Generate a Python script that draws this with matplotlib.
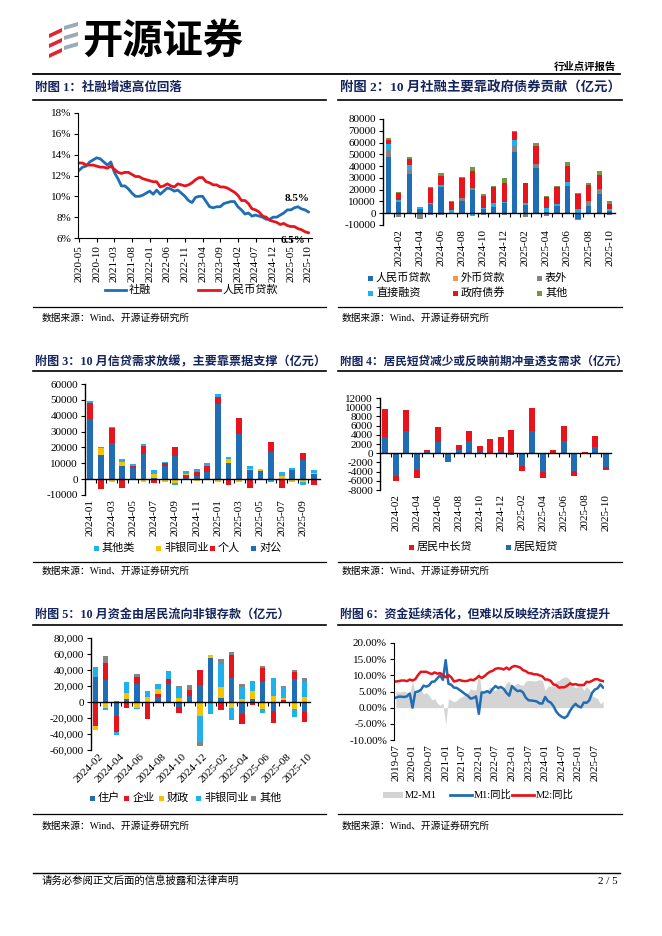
import matplotlib
matplotlib.use('Agg')
import matplotlib.pyplot as plt
from matplotlib.lines import Line2D
from matplotlib.patches import Rectangle, Polygon
from matplotlib.transforms import blended_transform_factory
import matplotlib.ticker as mticker
import numpy as np
import pandas as pd

plt.rcParams['font.family'] = ['Liberation Serif', 'Noto Sans CJK SC']
plt.rcParams['axes.unicode_minus'] = False

# ---------------- data ----------------
# Chart 1: 2020-05 .. 2025-10
c1_months = [p.strftime('%Y-%m') for p in pd.period_range('2020-05', '2025-10', freq='M')]
tsf_yoy = [12.5, 12.8, 12.9, 13.3, 13.5, 13.7, 13.6, 13.3,
           13.0, 13.3, 12.3, 11.7, 11.0, 11.0, 10.7, 10.3, 10.0, 10.0, 10.1, 10.3,
           10.5, 10.2, 10.6, 10.2, 10.5, 10.8, 10.7, 10.5, 10.6, 10.3, 10.0, 9.6,
           9.4, 9.9, 10.0, 10.0, 9.5, 9.0, 8.9, 9.0, 9.0, 9.3, 9.4, 9.5,
           9.5, 9.0, 8.7, 8.3, 8.4, 8.1, 8.2, 8.1, 8.0, 7.8, 7.8, 8.0,
           8.0, 8.2, 8.4, 8.7, 8.7, 8.9, 9.0, 8.8, 8.7, 8.5]
loan_yoy = [13.2, 13.2, 13.0, 13.0, 13.0, 12.9, 12.8, 12.8,
            12.7, 12.9, 12.6, 12.3, 12.2, 12.3, 12.3, 12.1, 11.9, 11.9, 11.7, 11.6,
            11.5, 11.4, 11.4, 10.9, 11.0, 11.2, 11.0, 10.9, 11.2, 11.1, 11.0, 11.1,
            11.3, 11.6, 11.8, 11.8, 11.4, 11.3, 11.1, 11.1, 10.9, 10.9, 10.8, 10.6,
            10.4, 10.1, 9.6, 9.6, 9.3, 8.8, 8.7, 8.5, 8.1, 8.0, 7.7, 7.6,
            7.5, 7.3, 7.4, 7.2, 7.1, 7.1, 6.9, 6.8, 6.6, 6.5]

# Chart 2: 2024-01 .. 2025-10
c2_months = [p.strftime('%Y-%m') for p in pd.period_range('2024-01', '2025-10', freq='M')]
tsf_rmb = [48000, 9500, 33000, 3500, 8000, 22000, 500, 10500, 19500, 3500, 5500, 8500,
           52000, 7000, 38000, 1000, 6000, 23000, -4500, 6000, 16000, 2000]
tsf_fx = [0, -300, 0, -500, -300, 0, -1000, 0, 0, -300, 0, 0,
          0, 0, 0, 0, 0, 0, 0, 0, 0, 0]
tsf_off = [6000, -3000, 3500, -4500, -1000, -1500, 0, 2500, 1500, -1000, -500, -1500,
           5000, -3000, 4000, -2500, -500, -1000, -1000, 4500, 4500, -1500]
tsf_direct = [5000, 2000, 4500, 1500, 1000, 2000, 2000, 0, -2000, 1000, 3500, 1000,
              5500, 1500, 0, 3500, 1500, 3500, 3500, 0, 0, 1500]
tsf_gov = [3000, 5500, 5000, 0, 12000, 8000, 7000, 16500, 15000, 10000, 13000, 16500,
           6500, 17000, 15000, 9500, 14500, 13500, 12500, 13500, 12000, 4500]
tsf_other = [2000, 1000, 1500, 0, 1000, 2000, 500, 1000, 3000, 1500, 1500, 4000,
             1000, 500, 3000, 500, 1500, 3500, 1500, 1500, 3000, 2000]

# Chart 3: 2024-01 .. 2025-10
ln_corp = [38000, 15000, 23000, 8500, 7000, 16000, 500, 8000, 14500, 500, 2000, 4500,
           47500, 10000, 28500, 5500, 4500, 17000, 0, 6000, 12000, 3000]
ln_indiv = [10000, -6000, 9500, -5500, 1000, 5000, -2500, 2000, 5500, 2000, 2500, 4000,
            4500, -4000, 10000, -5500, 500, 6500, -5500, 0, 4500, -4000]
ln_nonbank = [0, 4500, -2000, 2500, 500, -1500, 2500, -1500, -2500, 500, -1000, 0,
              -2000, 2500, -1500, 1000, 1500, -500, 2000, -1500, -2000, 1000]
ln_others = [1000, 1000, 500, 2000, 1000, 1000, 2500, 500, -1500, 2000, 2000, 1500,
             2000, 1500, -500, 1500, 0, -1000, 2500, 1000, -1500, 2000]

# Chart 4: 2024-01 .. 2025-10
hh_mid = [6100, -1100, 4600, -1800, 500, 3100, 100, 1200, 2300, 1000, 3000, 3000,
          5000, -1200, 5100, -1300, 700, 3300, -1200, 250, 2400, -700]
hh_short = [3600, -4900, 4800, -3600, 200, 2500, -2000, 600, 2600, 500, -200, 500,
            -300, -2700, 4800, -4000, 0, 2600, -3800, 50, 1400, -2900]

# Chart 5: 2024-02 .. 2025-10
c5_months = [p.strftime('%Y-%m') for p in pd.period_range('2024-02', '2025-10', freq='M')]
dep_hh = [31000, 28000, -18000, 4000, 22000, -2000, 6500, 22000, -6500, 7500, 21500,
          55500, 5500, 30500, -14500, 4000, 24500, -11500, -1000, 29000, -12000]
dep_corp = [-30000, 21000, -19000, -8000, 9500, -19500, 4000, 7000, -7000, 7500, 18500,
            -1500, -9500, 28500, -13500, -4000, 18000, -14500, 3000, 8500, -13000]
dep_fisc = [-5000, -8000, 0, 7000, -8000, 6000, 5500, -1500, 4500, 0, -17500,
            3500, 13000, -7500, 4000, 10000, -8500, 7000, 2000, -8500, 6500]
dep_nbank = [13000, -1500, -4000, 13500, -1000, 8000, 6500, 10000, 14000, 0, -32000,
             -14000, 28500, -15000, 14500, 12000, -5000, 23500, 14000, -10500, 18000]
dep_other = [0, 8000, 1000, 1000, 3000, 0, 0, 0, 1000, 6000, -5000,
             0, 6500, 4000, 3500, 0, 3000, 0, 1500, 3000, 5500]

# Chart 6: 2019-07 .. 2025-10
c6_months = [p.strftime('%Y-%m') for p in pd.period_range('2019-07', '2025-10', freq='M')]
m2_yoy = [8.1, 8.2, 8.4, 8.4, 8.2, 8.7,
          8.4, 8.8, 10.1, 11.1, 11.1, 11.1, 10.7, 10.4, 10.9, 10.5, 10.7, 10.1,
          9.4, 10.1, 9.4, 8.1, 8.3, 8.6, 8.3, 8.2, 8.3, 8.7, 8.5, 9.0,
          9.8, 9.2, 9.7, 10.5, 11.1, 11.4, 12.0, 12.2, 12.1, 11.8, 12.4, 11.8,
          12.6, 12.9, 12.7, 12.4, 11.6, 11.3, 10.7, 10.6, 10.3, 10.3, 10.0, 9.7,
          8.7, 8.7, 8.3, 7.2, 7.0, 6.2, 6.3, 6.3, 6.8, 7.5, 7.1, 7.3,
          7.0, 7.0, 7.0, 8.0, 7.9, 8.3, 8.8, 8.8, 8.4, 8.2]
m1_yoy = [3.1, 3.4, 3.4, 3.3, 3.5, 4.4,
          0.0, 4.8, 5.0, 5.5, 6.8, 6.5, 6.9, 8.0, 8.1, 9.1, 10.0, 8.6,
          14.7, 7.4, 7.1, 6.2, 6.1, 5.5, 4.9, 4.2, 3.7, 2.8, 3.0, 3.5,
          -1.9, 4.7, 4.7, 5.1, 4.6, 5.8, 6.7, 6.1, 6.4, 5.8, 4.6, 3.7,
          6.7, 5.8, 5.1, 5.3, 4.7, 3.1, 2.3, 2.2, 2.1, 1.9, 1.3, 1.3,
          3.3, 2.0, 1.6, 0.5, -1.2, -2.2, -2.8, -3.2, -2.6, -1.0, 0.3, 1.2,
          0.4, 0.1, 1.6, 1.5, 2.3, 4.6, 5.6, 6.0, 7.2, 6.2]

# ---------------- styles ----------------
BLUE = '#1f6db5'
RED = '#e8141b'
LBLUE = '#1eb1ec'
YELLOW = '#f7c200'
GRAY = '#848484'
ORANGE = '#f79646'
GREEN = '#6f9a40'
NAVY = '#14245c'
TICK_FS = 8
LEG_FS = 8

W, H = 662, 936
fig = plt.figure(figsize=(W / 100, H / 100), dpi=100)


def rect(x0, y0, x1, y1):
    return [x0 / W, 1 - y1 / H, (x1 - x0) / W, (y1 - y0) / H]


def ftext(x, y, s, **kw):
    fig.text(x / W, 1 - y / H, s, **kw)


def hline(x0, x1, y, lw=1.0, color='black'):
    fig.add_artist(Line2D([x0 / W, x1 / W], [1 - y / H, 1 - y / H], color=color, lw=lw))


def leg_patch(x, y, color, text, size=5, fs=LEG_FS):
    fig.add_artist(Rectangle(((x - size / 2) / W, 1 - (y + size / 2) / H), size / W, size / H,
                             color=color, lw=0))
    ftext(x + 6, y, text, va='center', ha='left', fontsize=fs)


def leg_line(x0, x1, y, color, text, tx, fs=LEG_FS):
    fig.add_artist(Line2D([x0 / W, x1 / W], [1 - y / H, 1 - y / H], color=color, lw=2))
    ftext(tx, y, text, va='center', ha='left', fontsize=fs)


def stacked(ax, series, colors, width):
    n = len(series[0])
    x = np.arange(n)
    pos = np.zeros(n)
    neg = np.zeros(n)
    for vals, c in zip(series, colors):
        v = np.array(vals, float)
        bottom = np.where(v >= 0, pos, neg)
        ax.bar(x, v, width, bottom=bottom, color=c, linewidth=0)
        pos = pos + np.where(v > 0, v, 0)
        neg = neg + np.where(v < 0, v, 0)


def style_bar(ax, ylim, ystep, fmt, n, xlim):
    ax.set_xlim(*xlim)
    ax.set_ylim(*ylim)
    ax.set_yticks(np.arange(ylim[0], ylim[1] + 1, ystep))
    ax.yaxis.set_major_formatter(fmt)
    for s in ['top', 'right']:
        ax.spines[s].set_visible(False)
    ax.spines['bottom'].set_position(('data', 0))
    ax.spines['left'].set_linewidth(1.0)
    ax.spines['bottom'].set_linewidth(1.0)
    ax.set_xticks(np.arange(n - 1) + 0.5)
    ax.set_xticklabels([])
    ax.tick_params(axis='x', length=3, width=0.8, direction='out')
    ax.tick_params(axis='y', length=3, width=0.8, direction='out', labelsize=TICK_FS, pad=2)
    ax.patch.set_alpha(0)


def cat_labels(ax, idx, labels, rot=90, y=-0.04):
    tr = blended_transform_factory(ax.transData, ax.transAxes)
    for i, lab in zip(idx, labels):
        if rot == 90:
            ax.text(i, y, lab, rotation=90, ha='center', va='top', transform=tr, fontsize=TICK_FS)
        else:
            ax.text(i + 0.3, y, lab, rotation=rot, ha='right', va='top', rotation_mode='anchor',
                    transform=tr, fontsize=TICK_FS)


# ---------------- header / footer ----------------
for k in range(3):
    y0 = 28 + k * 10
    fig.add_artist(Polygon([(49 / W, 1 - (y0 + 6) / H), (62 / W, 1 - y0 / H),
                            (62 / W, 1 - (y0 + 4) / H), (49 / W, 1 - (y0 + 10) / H)],
                           closed=True, color='#e1262d', lw=0))
    fig.add_artist(Polygon([(64 / W, 1 - (y0 - 2) / H), (78 / W, 1 - (y0 - 6) / H),
                            (78 / W, 1 - (y0 - 2) / H), (64 / W, 1 - (y0 + 2) / H)],
                           closed=True, color='#9aaab8', lw=0))
ftext(82, 41, '开源证券', fontsize=29, fontweight='bold', va='center', ha='left',
      family=['Noto Sans CJK SC'])
ftext(616, 67, '行业点评报告', fontsize=7.5, fontweight='bold', va='center', ha='right')
hline(33, 620, 74, lw=1.3)
hline(33, 620, 873, lw=1.0)
ftext(42, 881, '请务必参阅正文后面的信息披露和法律声明', fontsize=7.5, va='center', ha='left')
ftext(618, 881, '2 / 5', fontsize=8, va='center', ha='right')

titles = [
    (35, 88, '附图 1：社融增速高位回落', 9.0),
    (340, 88, '附图 2：10 月社融主要靠政府债券贡献（亿元）', 9.6),
    (35, 362, '附图 3：10 月信贷需求放缓，主要靠票据支撑（亿元）', 8.7),
    (340, 362, '附图 4：居民短贷减少或反映前期冲量透支需求（亿元）', 8.4),
    (35, 615, '附图 5：10 月资金由居民流向非银存款（亿元）', 8.7),
    (340, 615, '附图 6：资金延续活化，但难以反映经济活跃度提升', 8.6),
]
for x, y, s, fs in titles:
    ftext(x, y, s, fontsize=fs, fontweight='bold', color=NAVY, va='center', ha='left')
for y in [100, 371, 625]:
    hline(33, 326, y, lw=1.2)
    hline(338, 622, y, lw=1.2)
for yl, yt in [(307, 318), (562, 571), (814, 826)]:
    hline(33, 326, yl, lw=0.9)
    hline(338, 622, yl, lw=0.9)
    ftext(42, yt, '数据来源：Wind、开源证券研究所', fontsize=7, va='center', ha='left')
    ftext(342, yt, '数据来源：Wind、开源证券研究所', fontsize=7, va='center', ha='left')

# ---------------- chart 1 ----------------
ax1 = fig.add_axes(rect(78, 113, 312, 238))
x1 = np.arange(len(c1_months))
ax1.plot(x1, tsf_yoy, color=BLUE, lw=2)
ax1.plot(x1, loan_yoy, color=RED, lw=2)
ax1.set_xlim(-0.3, 66)
ax1.set_ylim(6, 18)
ax1.set_yticks(np.arange(6, 19, 2))
ax1.yaxis.set_major_formatter(mticker.FuncFormatter(lambda v, p: f'{v:.0f}%'))
ax1.set_xticks(x1[::5])
ax1.set_xticklabels(c1_months[::5], rotation=90, fontsize=TICK_FS)
for s in ['top', 'right']:
    ax1.spines[s].set_visible(False)
ax1.tick_params(axis='both', length=3, width=0.8, direction='out', labelsize=TICK_FS, pad=2)
ax1.annotate(f'{tsf_yoy[-1]:.1f}%', xy=(x1[-1], tsf_yoy[-1]), xytext=(-11, 13),
             textcoords='offset pixels', ha='center', va='center', fontsize=8, fontweight='bold')
ax1.annotate(f'{loan_yoy[-1]:.1f}%', xy=(x1[-1], loan_yoy[-1]), xytext=(-15, -8),
             textcoords='offset pixels', ha='center', va='center', fontsize=8, fontweight='bold',
             annotation_clip=False)
leg_line(105, 126, 290, BLUE, '社融', 129)
leg_line(198, 220, 290, RED, '人民币贷款', 223)

# ---------------- chart 2 ----------------
ax2 = fig.add_axes(rect(383, 119, 615, 225))
stacked(ax2, [tsf_rmb, tsf_fx, tsf_off, tsf_direct, tsf_gov, tsf_other],
        [BLUE, ORANGE, GRAY, LBLUE, RED, GREEN], 0.5)
style_bar(ax2, (-10000, 80000), 10000, mticker.FuncFormatter(lambda v, p: f'{v:.0f}'),
          len(c2_months), (-0.5, 21.5))
cat_labels(ax2, range(1, 22, 2), c2_months[1::2])
leg_patch(370, 278, BLUE, '人民币贷款')
leg_patch(455, 278, ORANGE, '外币贷款')
leg_patch(539, 278, GRAY, '表外')
leg_patch(370, 293, LBLUE, '直接融资')
leg_patch(455, 293, RED, '政府债券')
leg_patch(539, 293, GREEN, '其他')

# ---------------- chart 3 ----------------
ax3 = fig.add_axes(rect(85, 384, 320, 495))
stacked(ax3, [ln_corp, ln_indiv, ln_nonbank, ln_others], [BLUE, RED, YELLOW, LBLUE], 0.55)
style_bar(ax3, (-10000, 60000), 10000, mticker.FuncFormatter(lambda v, p: f'{v:.0f}'),
          len(c2_months), (-0.5, 21.6))
cat_labels(ax3, range(0, 22, 2), c2_months[0::2])
leg_patch(96, 548, LBLUE, '其他类')
leg_patch(158, 548, YELLOW, '非银同业')
leg_patch(212, 548, RED, '个人')
leg_patch(253, 548, BLUE, '对公')

# ---------------- chart 4 ----------------
ax4 = fig.add_axes(rect(380, 398, 611, 490))
stacked(ax4, [hh_short, hh_mid], [BLUE, RED], 0.55)
style_bar(ax4, (-8000, 12000), 2000, mticker.FuncFormatter(lambda v, p: f'{v:.0f}'),
          len(c2_months), (-0.5, 21.5))
cat_labels(ax4, range(1, 22, 2), c2_months[1::2])
leg_patch(411, 547, RED, '居民中长贷')
leg_patch(508, 547, BLUE, '居民短贷')

# ---------------- chart 5 ----------------
ax5 = fig.add_axes(rect(91, 638, 310, 750))
stacked(ax5, [dep_hh, dep_corp, dep_fisc, dep_nbank, dep_other],
        [BLUE, RED, YELLOW, LBLUE, GRAY], 0.5)
style_bar(ax5, (-60000, 80000), 20000, mticker.FuncFormatter(lambda v, p: f'{v:,.0f}'),
          len(c5_months), (-0.4, 20.5))
cat_labels(ax5, range(0, 21, 2), c5_months[0::2], rot=45, y=-0.02)
leg_patch(92, 798, BLUE, '住户')
leg_patch(127, 798, RED, '企业')
leg_patch(161, 798, YELLOW, '财政')
leg_patch(198, 798, LBLUE, '非银同业')
leg_patch(253, 798, GRAY, '其他')

# ---------------- chart 6 ----------------
ax6 = fig.add_axes(rect(394, 643, 604, 740))
x6 = np.arange(len(c6_months))
m2a = np.array(m2_yoy)
m1a = np.array(m1_yoy)
ax6.fill_between(x6, 0, m2a - m1a, color='#d4d4d4', lw=0)
ax6.plot(x6, m1a, color=BLUE, lw=1.8)
ax6.plot(x6, m2a, color=RED, lw=1.8)
ax6.set_xlim(-0.7, 75.3)
ax6.set_ylim(-10, 20)
ax6.set_yticks(np.arange(-10, 21, 5))
ax6.yaxis.set_major_formatter(mticker.FuncFormatter(lambda v, p: f'{v:.2f}%'))
ax6.set_xticks(x6[::6])
ax6.set_xticklabels(c6_months[::6], rotation=90, fontsize=TICK_FS)
for s in ['top', 'right', 'bottom']:
    ax6.spines[s].set_visible(False)
ax6.tick_params(axis='x', length=0, labelsize=TICK_FS, pad=3)
ax6.tick_params(axis='y', length=3, width=0.8, direction='out', labelsize=TICK_FS, pad=2)
fig.add_artist(Rectangle((383 / W, 1 - 798 / H), 20 / W, 6 / H, color='#d4d4d4', lw=0))
ftext(405, 795, 'M2-M1', fontsize=7.5, va='center', ha='left')
leg_line(450, 472, 795, BLUE, 'M1:同比', 474, fs=7.5)
leg_line(512, 534, 795, RED, 'M2:同比', 536, fs=7.5)

fig.savefig('out.png', dpi=100)
